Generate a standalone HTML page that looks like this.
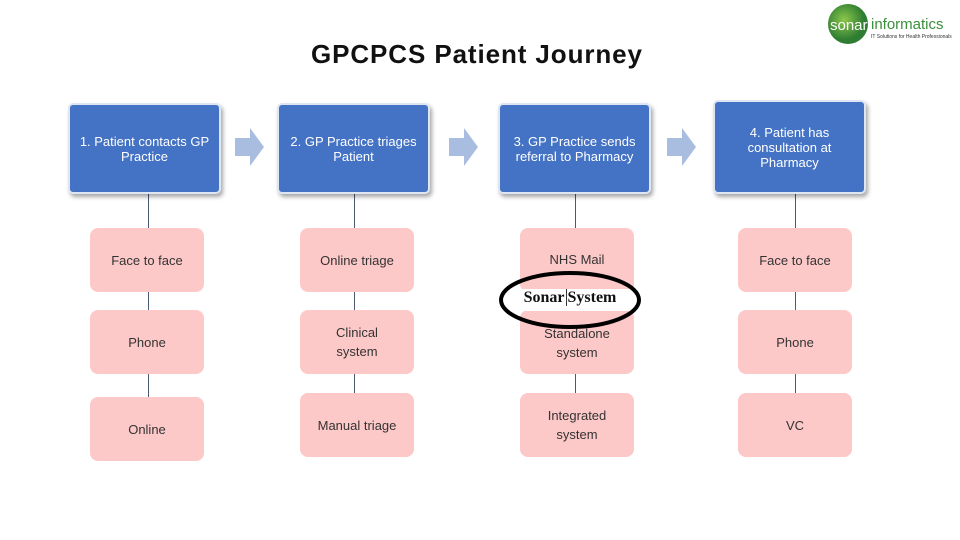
<!DOCTYPE html>
<html><head><style>
body{margin:0;width:960px;height:540px;background:#fff;position:relative;overflow:hidden;font-family:"Liberation Sans",sans-serif}
.b{position:absolute;background:#4472c4;color:#fff;font-size:13px;display:flex;align-items:center;justify-content:center;text-align:center;border-radius:5px;box-shadow:2px 3px 4px rgba(0,0,0,.35);border:2px solid #dfe6f3;box-sizing:border-box;line-height:15px;padding:0 8px}
.p{position:absolute;background:#fdc8c8;color:#333;font-size:13px;display:flex;align-items:center;justify-content:center;text-align:center;border-radius:8px;line-height:19px;width:114px;height:64px}
.l{position:absolute;width:1px;background:#4a5a70}
</style></head><body>
<div style="position:absolute;left:311px;top:39px;font-size:26px;font-weight:bold;color:#111;letter-spacing:0.9px">GPCPCS Patient Journey</div>
<svg style="position:absolute;left:826px;top:2px" width="134" height="44">
<defs><radialGradient id="g" cx="40%" cy="40%"><stop offset="0" stop-color="#8cc84b"/><stop offset="1" stop-color="#2e7d32"/></radialGradient></defs>
<circle cx="22" cy="22" r="20" fill="url(#g)"/>
<text x="4" y="28" font-size="15" fill="#fff" font-family="Liberation Sans">sonar</text>
<text x="45" y="27" font-size="15" fill="#3c8f3c" font-family="Liberation Sans">informatics</text>
<text x="45" y="36" font-size="5" fill="#333" font-family="Liberation Sans">IT Solutions for Health Professionals</text>
</svg>
<div class="l" style="left:148px;top:190px;height:220px"></div>
<div class="l" style="left:354px;top:190px;height:220px"></div>
<div class="l" style="left:575px;top:190px;height:220px"></div>
<div class="l" style="left:795px;top:190px;height:220px"></div>
<div class="b" style="left:68px;top:103px;width:153px;height:91px">1. Patient contacts GP Practice</div>
<div class="b" style="left:277px;top:103px;width:153px;height:91px">2. GP Practice triages Patient</div>
<div class="b" style="left:498px;top:103px;width:153px;height:91px">3. GP Practice sends referral to Pharmacy</div>
<div class="b" style="left:713px;top:100px;width:153px;height:94px">4. Patient has consultation at Pharmacy</div>
<svg style="position:absolute;left:0;top:0" width="960" height="540">
<g fill="#a9bde0">
<polygon points="235,138 250,138 250,128 264,147 250,166 250,156 235,156"/>
<polygon points="449,138 464,138 464,128 478,147 464,166 464,156 449,156"/>
<polygon points="667,138 682,138 682,128 696,147 682,166 682,156 667,156"/>
</g></svg>
<div class="p" style="left:90px;top:228px">Face to face</div>
<div class="p" style="left:90px;top:310px">Phone</div>
<div class="p" style="left:90px;top:397px">Online</div>
<div class="p" style="left:300px;top:228px">Online triage</div>
<div class="p" style="left:300px;top:310px">Clinical<br>system</div>
<div class="p" style="left:300px;top:393px">Manual triage</div>
<div class="p" style="left:520px;top:228px;align-items:flex-start;padding-top:22px;box-sizing:border-box">NHS Mail</div>
<div class="p" style="left:520px;top:310px;align-items:flex-end;padding-bottom:12px;box-sizing:border-box">Standalone<br>system</div>
<div class="p" style="left:520px;top:393px">Integrated<br>system</div>
<div class="p" style="left:738px;top:228px">Face to face</div>
<div class="p" style="left:738px;top:310px">Phone</div>
<div class="p" style="left:738px;top:393px">VC</div>
<div style="position:absolute;left:510px;top:289px;width:130px;height:22px;background:#fff"></div>
<div style="position:absolute;left:500px;top:289px;width:140px;text-align:center;font-family:'Liberation Serif',serif;font-weight:bold;font-size:16px;color:#111">Sonar<span style="border-left:1px solid #333;margin-left:1px;padding-left:1px">System</span></div>
<svg style="position:absolute;left:0;top:0" width="960" height="540"><ellipse cx="570" cy="300" rx="69" ry="27" fill="none" stroke="#000" stroke-width="4"/></svg>
</body></html>
